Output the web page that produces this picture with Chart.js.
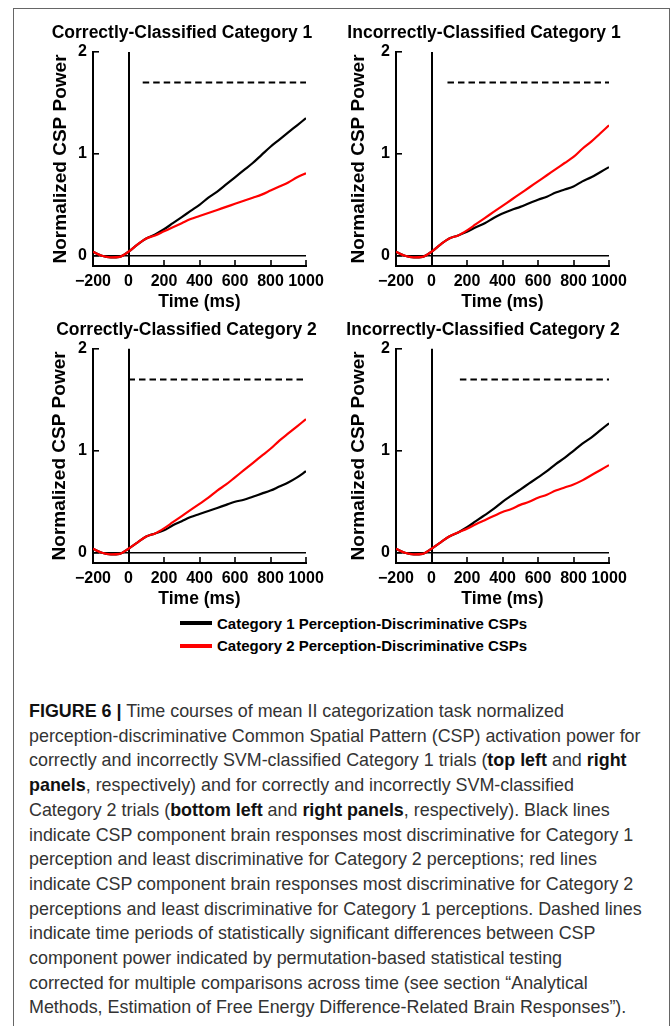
<!DOCTYPE html>
<html>
<head>
<meta charset="utf-8">
<script src="https://cdn.jsdelivr.net/npm/chart.js@4.4.0/dist/chart.umd.min.js"></script>
<style>
  html, body { margin: 0; padding: 0; background: #fff; }
  body { width: 672px; height: 1026px; position: relative; overflow: hidden; font-family: 'Liberation Sans', Arial, sans-serif; }
  .frame { position: absolute; left: 13px; top: 8px; width: 655px; height: 1100px; border: 1px solid #666; border-bottom: none; }
  canvas { position: absolute; }
  .legend-row { position: absolute; left: 180px; height: 20px; display: flex; align-items: center; font-weight: bold; font-size: 15px; color: #000; white-space: nowrap; }
  .legend-row .sw { width: 32px; height: 4px; margin-right: 5px; }
  .caption { position: absolute; left: 29px; top: 699px; font-size: 17.9px; line-height: 24.7px; color: #333; white-space: nowrap; }
  .caption b { color: #111; }
</style>
</head>
<body>
<div class="frame"></div>
<canvas id="p0"></canvas>
<canvas id="p1"></canvas>
<canvas id="p2"></canvas>
<canvas id="p3"></canvas>
<div id="legend"></div>
<div class="caption" id="caption"></div>

<script>
// ─── Data ─────────────────────────────────────────────────────
const timeMs = [-200, -150, -100, -50, 0, 50, 100, 150, 200, 250, 300, 350, 400,
                450, 500, 550, 600, 650, 700, 750, 800, 850, 900, 950, 1000];

const xTicks = [-200, 0, 200, 400, 600, 800, 1000];
const yTicks = [0, 1, 2];

const panelTitles = [
  'Correctly-Classified Category 1',
  'Incorrectly-Classified Category 1',
  'Correctly-Classified Category 2',
  'Incorrectly-Classified Category 2',
];

const seriesNames = [
  'Category 1 Perception-Discriminative CSPs',
  'Category 2 Perception-Discriminative CSPs',
];

// black = Category 1 CSPs, red = Category 2 CSPs
const correct1Black   = [0.04, 0.00, -0.015, -0.01, 0.04, 0.11, 0.17, 0.21, 0.26, 0.32, 0.38, 0.44, 0.50, 0.57, 0.63, 0.70, 0.77, 0.84, 0.91, 0.99, 1.07, 1.14, 1.21, 1.28, 1.35];
const correct1Red     = [0.04, 0.00, -0.015, -0.01, 0.04, 0.11, 0.17, 0.20, 0.24, 0.28, 0.32, 0.36, 0.39, 0.42, 0.45, 0.48, 0.51, 0.54, 0.57, 0.60, 0.64, 0.68, 0.72, 0.77, 0.81];
const incorrect1Black = [0.04, 0.00, -0.015, -0.01, 0.04, 0.11, 0.17, 0.20, 0.235, 0.28, 0.32, 0.37, 0.415, 0.45, 0.48, 0.515, 0.55, 0.58, 0.62, 0.65, 0.68, 0.73, 0.77, 0.82, 0.87];
const incorrect1Red   = [0.04, 0.00, -0.015, -0.01, 0.04, 0.11, 0.17, 0.20, 0.25, 0.31, 0.37, 0.43, 0.49, 0.55, 0.61, 0.67, 0.73, 0.79, 0.85, 0.91, 0.97, 1.05, 1.12, 1.20, 1.28];
const correct2Black   = [0.04, 0.00, -0.015, -0.01, 0.04, 0.10, 0.16, 0.19, 0.22, 0.27, 0.31, 0.35, 0.38, 0.41, 0.44, 0.47, 0.50, 0.52, 0.55, 0.58, 0.61, 0.65, 0.69, 0.74, 0.80];
const correct2Red     = [0.04, 0.00, -0.015, -0.01, 0.04, 0.10, 0.16, 0.19, 0.24, 0.30, 0.36, 0.42, 0.48, 0.54, 0.61, 0.67, 0.74, 0.81, 0.88, 0.95, 1.02, 1.10, 1.17, 1.24, 1.31];
const incorrect2Black = [0.04, 0.00, -0.015, -0.01, 0.04, 0.10, 0.16, 0.20, 0.25, 0.31, 0.37, 0.43, 0.50, 0.56, 0.62, 0.68, 0.74, 0.80, 0.87, 0.93, 1.00, 1.07, 1.13, 1.20, 1.27];
const incorrect2Red   = [0.04, 0.00, -0.015, -0.01, 0.04, 0.10, 0.16, 0.20, 0.235, 0.28, 0.32, 0.36, 0.40, 0.43, 0.47, 0.50, 0.54, 0.57, 0.61, 0.64, 0.67, 0.71, 0.76, 0.81, 0.86];

// significant-difference periods (dashed lines)
const sigStartMs = [80, 90, 0, 160];
const sigEndMs   = 1000;
const sigLevel   = 1.7;

const blackSeries = [correct1Black, incorrect1Black, correct2Black, incorrect2Black];
const redSeries   = [correct1Red, incorrect1Red, correct2Red, incorrect2Red];

// ─── Layout (page pixels of each plot area) ───────────────────
const GEOM = [
  { left: 93,  right: 306, top: 51.7,  bottom: 266,   tcx: 182,   tcy: 33.3, ytx: 60.8 },
  { left: 396, right: 609, top: 51.7,  bottom: 266,   tcx: 484,   tcy: 33.3, ytx: 358.5 },
  { left: 93,  right: 306, top: 348.3, bottom: 562.5, tcx: 186.5, tcy: 330,  ytx: 60 },
  { left: 396, right: 609, top: 348.3, bottom: 562.5, tcx: 483,   tcy: 330,  ytx: 358.5 },
];
const PAD_R = 25, X_AXIS_H = 50, TICK_LEN = -6;
const FONT = "'Liberation Sans', Arial, sans-serif";
const TITLE_SIZE = 17.5, YTITLE_SIZE = 19, XTITLE_SIZE = 17.5, TICK_SIZE = 16;

const minus = v => v < 0 ? '\u2212' + Math.abs(v) : String(v);
const isZero = ctx => ctx.tick && ctx.tick.value === 0;

function makePanel(i) {
  const g = GEOM[i];
  const el = document.getElementById('p' + i);
  const cl = 2 * g.tcx - g.right - PAD_R;
  const cw = g.right + PAD_R - cl;
  const tLine = TITLE_SIZE * 1.2;
  const ct = g.tcy - 4 - tLine / 2;
  const ch = g.bottom + X_AXIS_H - ct;
  el.width = cw; el.height = ch;
  el.style.left = cl + 'px'; el.style.top = ct + 'px';
  el.style.width = cw + 'px'; el.style.height = ch + 'px';

  const pts = arr => timeMs.map((t, k) => ({ x: t, y: arr[k] }));
  const gridColor = ctx => isZero(ctx) ? '#000' : 'rgba(0,0,0,0)';

  new Chart(el, {
    type: 'line',
    data: {
      datasets: [
        { label: seriesNames[1], data: pts(redSeries[i]), borderColor: '#ff0000', borderWidth: 2.2,
          pointRadius: 0, cubicInterpolationMode: 'monotone', order: 0 },
        { label: seriesNames[0], data: pts(blackSeries[i]), borderColor: '#000', borderWidth: 2.2,
          pointRadius: 0, cubicInterpolationMode: 'monotone', order: 1 },
        { label: 'sig', data: [{ x: sigStartMs[i], y: sigLevel }, { x: sigEndMs, y: sigLevel }],
          borderColor: '#000', borderWidth: 2, borderDash: [6.5, 4], pointRadius: 0, order: 2 },
      ]
    },
    options: {
      responsive: false,
      animation: false,
      devicePixelRatio: 1,
      layout: { padding: 0 },
      plugins: {
        legend: { display: false },
        tooltip: { enabled: false },
        title: {
          display: true, text: panelTitles[i], color: '#000',
          font: { family: FONT, size: TITLE_SIZE, weight: 'bold', lineHeight: 1.2 },
          padding: { top: 4, bottom: g.top - g.tcy - tLine / 2 },
        },
      },
      scales: {
        x: {
          type: 'linear', min: -200, max: 1000,
          afterBuildTicks: s => { s.ticks = xTicks.map(v => ({ value: v })); },
          afterFit: s => { s.height = X_AXIS_H; s.paddingLeft = 0; s.paddingRight = 0; },
          // label centre sits ~16px below the axis
          ticks: { color: '#000', padding: 16 - TICK_LEN - TICK_SIZE * 0.6, maxRotation: 0, autoSkip: false,
                   font: { family: FONT, size: TICK_SIZE, weight: 'bold', lineHeight: 1.2 },
                   callback: v => minus(v) },
          grid: { drawOnChartArea: true, drawTicks: true, tickLength: TICK_LEN,
                  color: gridColor, lineWidth: 2, tickColor: '#000', tickWidth: 1.6 },
          border: { display: true, color: '#000', width: 2 },
          title: { display: true, text: 'Time (ms)', color: '#000',
                   font: { family: FONT, size: XTITLE_SIZE, weight: 'bold', lineHeight: 1.2 },
                   padding: { top: 0, bottom: X_AXIS_H - 36 - XTITLE_SIZE * 0.6 } },
        },
        y: {
          type: 'linear', min: -0.1, max: 2,
          afterBuildTicks: s => { s.ticks = yTicks.map(v => ({ value: v })); },
          afterFit: s => { s.width = g.left - cl; s.paddingTop = 0; s.paddingBottom = 0; },
          ticks: { color: '#000', padding: 12,
                   font: { family: FONT, size: TICK_SIZE, weight: 'bold', lineHeight: 1.2 },
                   callback: v => minus(v) },
          grid: { drawOnChartArea: true, drawTicks: true, tickLength: TICK_LEN,
                  color: gridColor, lineWidth: 1.6, tickColor: '#000', tickWidth: 1.6 },
          border: { display: true, color: '#000', width: 2 },
          title: { display: true, text: 'Normalized CSP Power', color: '#000',
                   font: { family: FONT, size: YTITLE_SIZE, weight: 'bold', lineHeight: 1.2 },
                   padding: { top: g.ytx - cl - YTITLE_SIZE * 0.6, bottom: 0 } },
        },
        // empty right-hand box: keeps the plot area off the canvas edge
        pad: {
          axis: 'y', type: 'linear', position: 'right', display: true,
          grid: { display: false }, ticks: { display: false }, border: { display: false },
          afterFit: s => { s.width = PAD_R; },
        },
      }
    }
  });
}

[0, 1, 2, 3].forEach(makePanel);

// ─── Legend ───────────────────────────────────────────────────
const legendColors = ['#000', '#ff0000'];
const legendY = [623.3, 645.7];
document.getElementById('legend').innerHTML = seriesNames.map((name, k) =>
  `<div class="legend-row" style="top:${legendY[k] - 10}px"><span class="sw" style="background:${legendColors[k]}"></span>${name}</div>`
).join('');

// ─── Caption ──────────────────────────────────────────────────
const captionLines = [
  '<b>FIGURE 6 |</b> Time courses of mean II categorization task normalized',
  'perception-discriminative Common Spatial Pattern (CSP) activation power for',
  'correctly and incorrectly SVM-classified Category 1 trials (<b>top left</b> and <b>right</b>',
  '<b>panels</b>, respectively) and for correctly and incorrectly SVM-classified',
  'Category 2 trials (<b>bottom left</b> and <b>right panels</b>, respectively). Black lines',
  'indicate CSP component brain responses most discriminative for Category 1',
  'perception and least discriminative for Category 2 perceptions; red lines',
  'indicate CSP component brain responses most discriminative for Category 2',
  'perceptions and least discriminative for Category 1 perceptions. Dashed lines',
  'indicate time periods of statistically significant differences between CSP',
  'component power indicated by permutation-based statistical testing',
  'corrected for multiple comparisons across time (see section \u201cAnalytical',
  'Methods, Estimation of Free Energy Difference-Related Brain Responses\u201d).',
];
document.getElementById('caption').innerHTML = captionLines.join('<br>');
</script>
</body>
</html>
